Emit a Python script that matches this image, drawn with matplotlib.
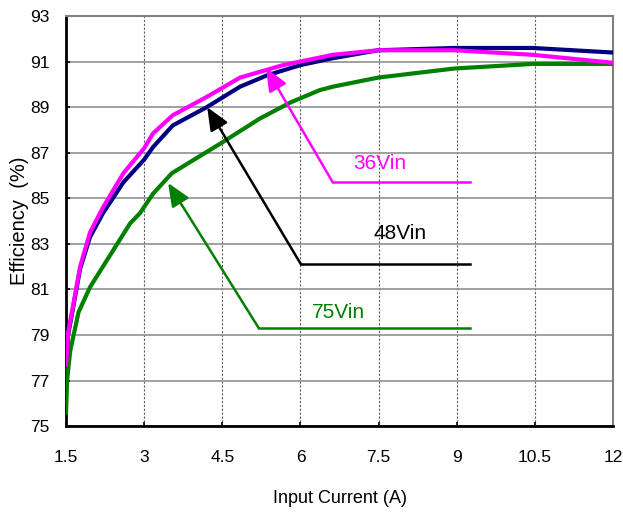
import numpy as np
import matplotlib
matplotlib.use("Agg")
import matplotlib.pyplot as plt

# efficiency curves
x_48 = [1.5, 1.54, 1.62, 1.77, 1.96, 2.21, 2.6, 3.0, 3.17, 3.55, 4.2, 4.84, 5.36, 6.0, 6.62, 7.49, 8.96, 10.46, 12.0]
y_48 = [77.6, 79.0, 80.0, 81.9, 83.3, 84.35, 85.7, 86.7, 87.25, 88.2, 89.0, 89.9, 90.4, 90.85, 91.15, 91.5, 91.6, 91.6, 91.4]

x_36 = [1.5, 1.54, 1.62, 1.77, 1.96, 2.21, 2.6, 3.0, 3.17, 3.55, 4.2, 4.84, 5.67, 6.62, 7.49, 8.96, 10.46, 12.0]
y_36 = [77.7, 79.1, 80.1, 82.0, 83.5, 84.6, 86.1, 87.2, 87.85, 88.65, 89.45, 90.3, 90.85, 91.3, 91.5, 91.5, 91.3, 90.95]

x_75 = [1.5, 1.52, 1.58, 1.74, 1.96, 2.29, 2.73, 2.92, 3.17, 3.53, 4.46, 5.22, 5.8, 6.37, 6.62, 7.49, 8.96, 10.46, 12.0]
y_75 = [75.6, 77.0, 78.3, 80.0, 81.1, 82.3, 83.9, 84.35, 85.2, 86.1, 87.4, 88.5, 89.2, 89.75, 89.9, 90.3, 90.7, 90.9, 90.9]

x_ticks = [1.5, 3, 4.5, 6, 7.5, 9, 10.5, 12]
x_tick_labels = ["1.5", "3", "4.5", "6", "7.5", "9", "10.5", "12"]
y_ticks = [75, 77, 79, 81, 83, 85, 87, 89, 91, 93]

# label: text pos, arrow tip, elbow, end of horizontal leader
labels = [
    ("36Vin", "#ff00ff", (7.53, 86.55), (5.34, 90.72), (6.62, 85.7), (9.25, 85.7)),
    ("48Vin", "black", (7.91, 83.47), (4.21, 89.0), (6.01, 82.1), (9.25, 82.1)),
    ("75Vin", "#008000", (6.72, 80.0), (3.46, 85.67), (5.2, 79.3), (9.25, 79.3)),
]

narrow = ["Liberation Sans Narrow", "DejaVu Sans Condensed", "Liberation Sans"]
plain = ["Liberation Sans", "DejaVu Sans"]

fig = plt.figure(figsize=(6.23, 5.19), dpi=100)
ax = fig.add_axes([0.106, 0.179, 0.878, 0.79])

ax.plot(x_48, y_48, color="#000080", lw=3, solid_joinstyle="round", zorder=3)
ax.plot(x_36, y_36, color="#ff00ff", lw=3, solid_joinstyle="round", zorder=4)
ax.plot(x_75, y_75, color="#008000", lw=3, solid_joinstyle="round", zorder=3)

for name, col, tpos, tip, elbow, end in labels:
    ax.plot([elbow[0], end[0]], [end[1], end[1]], color=col, lw=1.8, zorder=5)
    ax.annotate("", xy=tip, xytext=elbow,
                arrowprops=dict(arrowstyle="-|>,head_length=0.7,head_width=0.3",
                                color=col, lw=1.8, mutation_scale=20,
                                shrinkA=0, shrinkB=0),
                zorder=5)
    ax.text(tpos[0], tpos[1], name, color=col, fontsize=15, family=plain,
            ha="center", va="center")

ax.set_xlim(1.5, 12)
ax.set_ylim(75, 93)
ax.set_xticks(x_ticks)
ax.set_xticklabels(x_tick_labels)
ax.set_yticks(y_ticks)
ax.tick_params(axis="both", length=3, width=1.2, labelsize=12.5, direction="in")
ax.tick_params(axis="x", pad=17)
ax.tick_params(axis="y", pad=12)
for lab in ax.get_xticklabels() + ax.get_yticklabels():
    lab.set_family(narrow)

ax.grid(axis="y", color="#909090", lw=1.2, ls="-")
ax.grid(axis="x", color="#606060", lw=0.8, ls=(0, (2, 1.5)))
ax.set_axisbelow(True)

ax.spines["left"].set_linewidth(2)
ax.spines["bottom"].set_linewidth(2)
ax.spines["top"].set_color("#808080")
ax.spines["right"].set_color("#808080")
ax.spines["top"].set_linewidth(1.5)
ax.spines["right"].set_linewidth(1.5)

ax.set_xlabel("Input Current (A)", fontsize=13, family=narrow, labelpad=18)
ax.set_ylabel("Efficiency  (%)", fontsize=14.5, family=plain)
ax.yaxis.set_label_coords(-0.068, 0.5)

fig.savefig("out.png", dpi=100)
